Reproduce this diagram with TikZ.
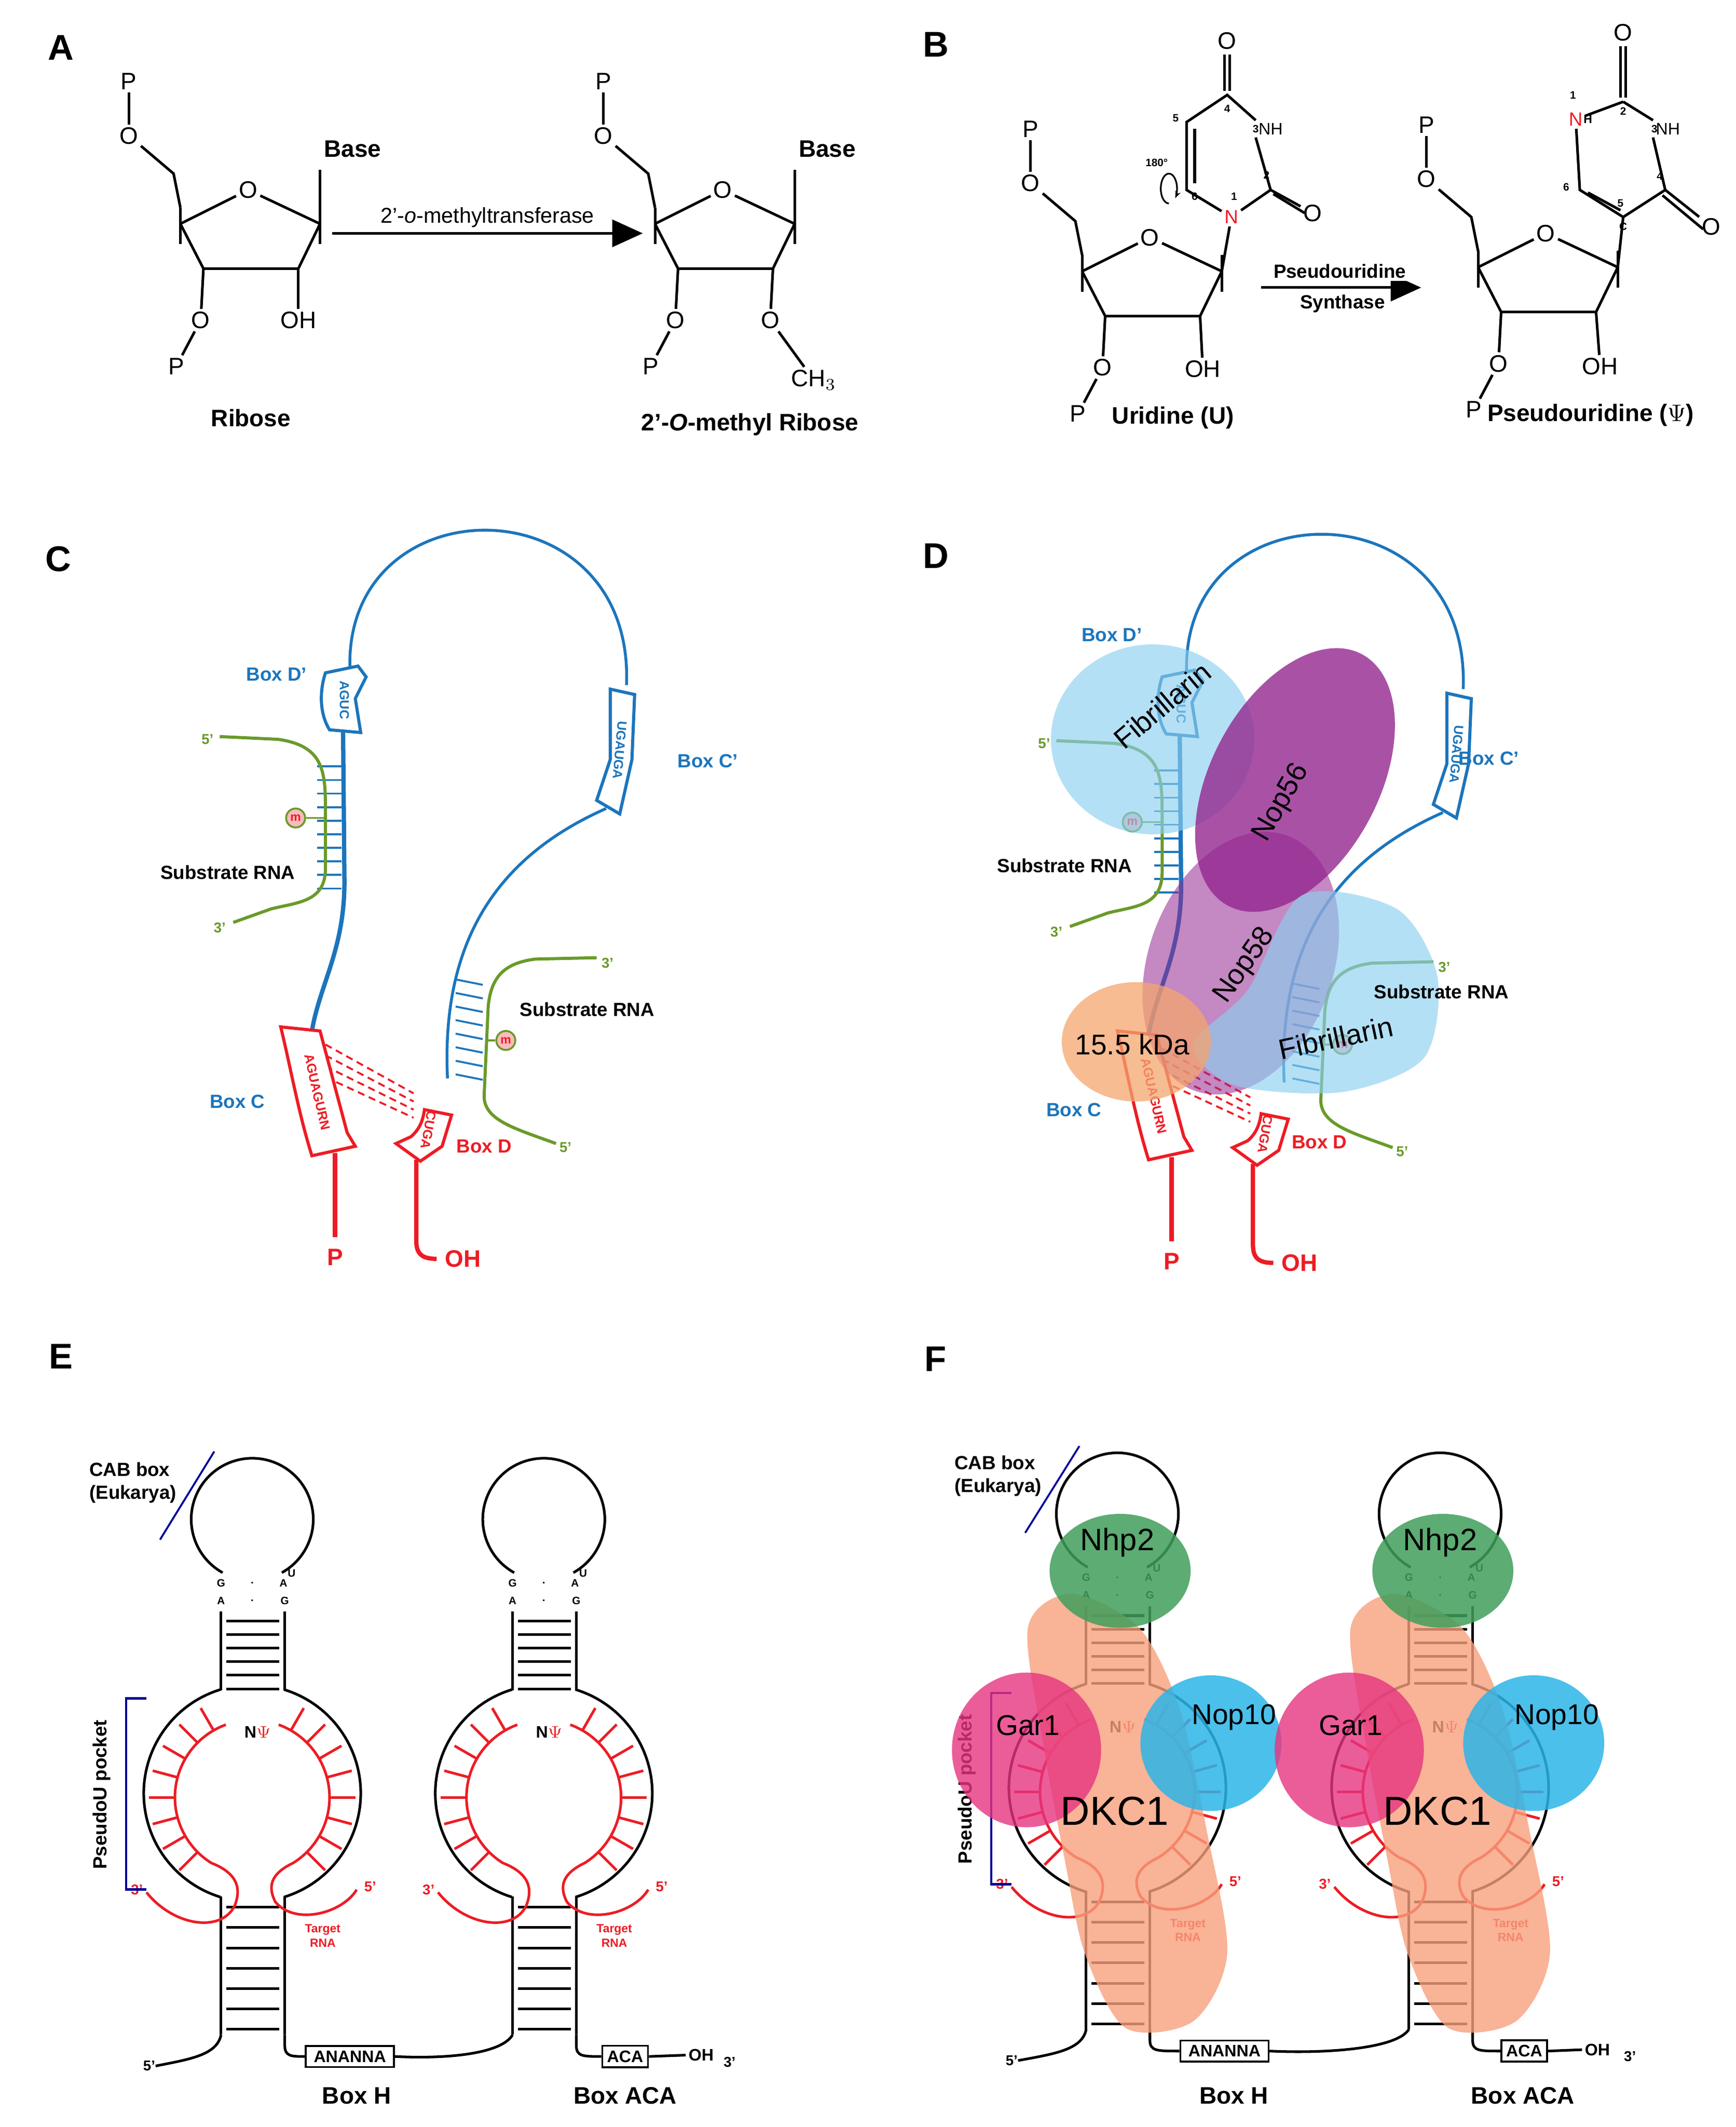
\documentclass[tikz,border=0pt]{standalone}
\usepackage{fontspec}
\setmainfont{Liberation Sans}
\usetikzlibrary{positioning}
\usetikzlibrary{calc}
\usetikzlibrary{arrows.meta}
\definecolor{guideblue}{HTML}{1B75BC}
\definecolor{lightblue}{HTML}{8CCFF0}
\definecolor{rnared}{HTML}{ED1C24}
\definecolor{rnagreen}{HTML}{6A9A2A}
\definecolor{nopurple}{HTML}{93278F}
\definecolor{kdaorange}{HTML}{F4A66E}
\definecolor{dkcsalmon}{HTML}{F7A07C}
\definecolor{garpink}{HTML}{E6347F}
\definecolor{nopcyan}{HTML}{2CB5E8}
\definecolor{nhpgreen}{HTML}{3F9E5A}
\tikzset{
  bond/.style={line width=1.1pt, black},
  atom/.style={inner sep=1pt, font=\fontsize{10}{12}\selectfont},
  lbl/.style={font=\bfseries\fontsize{10}{12}\selectfont},
  panel/.style={font=\bfseries\fontsize{15}{18}\selectfont},
  num/.style={inner sep=0pt, font=\bfseries\fontsize{4.5}{5}\selectfont},
  boxlet/.style={inner sep=0pt, font=\bfseries\fontsize{5.5}{6}\selectfont},
  protein/.style={font=\fontsize{12}{14}\selectfont},
  guide/.style={guideblue, line width=1.8pt},
  guidethin/.style={guideblue, line width=1.2pt},
  substrate/.style={rnagreen, line width=1.3pt},
  stem/.style={line width=1.1pt, black},
  target/.style={rnared, line width=1.1pt},
}
% ribose ring, local origin at the ring oxygen
\newcommand{\ribosering}{%
  \node[atom] (O) at (0,0) {O};
  \coordinate (C4) at (-50,25); \coordinate (C1) at (53,25);
  \coordinate (C3) at (-33,58); \coordinate (C2) at (37,58);
  \draw[bond] (C4) -- (O); \draw[bond] (O) -- (C1);
  \draw[bond] (C1) -- (C2) -- (C3) -- (C4);
  \draw[bond] (-50,13) -- (-50,40); \draw[bond] (53,13) -- (53,40);
  \node[atom] (O5) at (-88,-40) {O};
  \node[atom] (P5) at (-88,-80) {P};
  \coordinate (C5) at (-55,-12);
  \draw[bond] (P5) -- (O5); \draw[bond] (O5) -- (C5) -- (-50,13);
  \node[atom] (O3) at (-35,96) {O};
  \node[atom] (P3) at (-53,130) {P};
  \draw[bond] (C3) -- (O3); \draw[bond] (O3) -- (P3);
}
% C/D box guide RNA with two substrates
\newcommand{\cdguide}{%
  \draw[guidethin] (258,492) .. controls (255,355) and (468,355) .. (462,505);
  \draw[guide, line width=1.3pt, fill=white] (240,496) -- (264,491) -- (270,499) -- (262,515) -- (266,540) -- (243,538) .. controls (235,525) and (236,508) .. cycle;
  \node[boxlet, guideblue, rotate=-90] (dp) at (254,516) {AGUC};
  \draw[guide, line width=1.3pt, fill=white] (450,508) -- (468,512) -- (466,560) -- (457,600) -- (440,590) -- (450,560) -- cycle;
  \node[boxlet, guideblue, rotate=-95] (cp) at (457,553) {UGAUGA};
  \draw[guide] (253,540) -- (254,650) .. controls (254,700) and (236,725) .. (230,760);
  \foreach \y in {565,575,...,655} \draw[guidethin, line width=0.8pt] (234,\y) -- (252,\y);
  \draw[guidethin] (447,596) .. controls (370,630) and (325,690) .. (330,795);
  \foreach \y in {722,732,...,792} \draw[guidethin, line width=0.8pt] (336,\y) -- (356,\y+4);
  \draw[substrate] (162,543) -- (205,545) .. controls (240,550) and (240,570) .. (240,600) -- (240,640) .. controls (240,665) and (220,665) .. (200,670) -- (172,680);
  \node[num, rnagreen, font=\bfseries\fontsize{6}{7}\selectfont] (s5a) at (153,545) {5'};
  \node[num, rnagreen, font=\bfseries\fontsize{6}{7}\selectfont] (s3a) at (162,684) {3'};
  \node[draw=rnagreen, thick, circle, inner sep=1pt, fill=rnared!30, font=\bfseries\fontsize{5}{6}\selectfont, text=rnared] (ma) at (218,603) {m};
  \draw[substrate, line width=0.8pt] (ma) -- (240,603);
  \draw[substrate] (440,706) -- (395,707) .. controls (370,710) and (362,722) .. (360,742) -- (357,808) .. controls (357,826) and (380,832) .. (410,843);
  \node[num, rnagreen, font=\bfseries\fontsize{6}{7}\selectfont] (s3b) at (448,710) {3'};
  \node[num, rnagreen, font=\bfseries\fontsize{6}{7}\selectfont] (s5b) at (417,846) {5'};
  \node[draw=rnagreen, thick, circle, inner sep=1pt, fill=rnared!30, font=\bfseries\fontsize{5}{6}\selectfont, text=rnared] (mb) at (373,767) {m};
  \draw[substrate, line width=0.8pt] (mb) -- (358,767);
  \foreach \i in {0,1,2,3}
    \draw[rnared, line width=0.8pt, dash pattern=on 3pt off 2pt] (240,770+8*\i) -- (305,806+6*\i);
  \draw[rnared, line width=1.3pt, fill=white] (207,757) -- (236,760) -- (256,835) -- (262,845) -- (230,852) .. controls (220,820) and (215,790) .. cycle;
  \node[boxlet, rnared, rotate=-77] (cb) at (234,805) {AGUAGURN};
  \draw[rnared, line width=1.3pt, fill=white] (313,818) -- (333,822) -- (326,845) -- (310,856) -- (292,843) -- (303,838) .. controls (310,832) and (312,825) .. cycle;
  \node[boxlet, rnared, rotate=-100] (db) at (316,833) {CUGA};
  \draw[rnared, line width=1.8pt] (247,850) -- (247,912);
  \node[lbl, rnared] (pend) at (247,927) {P};
  \draw[rnared, line width=1.8pt] (307,855) -- (307,915) .. controls (307,925) and (312,928) .. (322,928);
  \node[lbl, rnared, anchor=west] (ohend) at (322,928) {OH};
}
% H/ACA hairpin, local origin on the left strand
\newcommand{\hairpin}{%
  \draw[stem] (23,1120) ++(119:45) arc[start angle=119, end angle=421, radius=45];
  \node[num] (g1) at (0,1167) {G}; \node[num] (a1) at (0,1180) {A};
  \node[num] (d1) at (23,1167) {.}; \node[num] (d2) at (23,1180) {.};
  \node[num] (a2) at (46,1167) {A}; \node[num] (u2) at (52,1160) {U};
  \node[num] (g2) at (47,1180) {G};
  \draw[stem] (0,1188) -- (0,1246); \draw[stem] (47,1188) -- (47,1246);
  \foreach \y in {1195,1205,...,1245} \draw[stem] (4,\y) -- (43,\y);
  \draw[stem] (23,1322) ++(253:80) arc[start angle=253, end angle=107, radius=80];
  \draw[stem] (23,1322) ++(-73:80) arc[start angle=-73, end angle=73, radius=80];
  \draw[stem] (0,1398) -- (0,1500); \draw[stem] (47,1398) -- (47,1500);
  \foreach \y in {1406,1421,...,1496} \draw[stem] (4,\y) -- (43,\y);
  \draw[target] (23,1325) ++(250:57) arc[start angle=250, end angle=122, radius=57]
    .. controls (15,1382) and (14,1395) .. (10,1405) .. controls (0,1425) and (-35,1420) .. (-55,1395);
  \draw[target] (23,1325) ++(-70:57) arc[start angle=-70, end angle=58, radius=57]
    .. controls (35,1382) and (35,1392) .. (40,1402) .. controls (55,1420) and (90,1410) .. (100,1393);
  \foreach \a in {240,225,...,135} \draw[target] (23,1325) ++(\a:57) -- ++(\a:19);
  \foreach \a in {-60,-45,...,45} \draw[target] (23,1325) ++(\a:57) -- ++(\a:19);
  \node[font=\bfseries\fontsize{7}{8}\selectfont, inner sep=0pt] (npsi) at (27,1277) {N\textcolor{rnared}{$\Psi$}};
  \node[num, rnared, font=\bfseries\fontsize{6}{7}\selectfont] (t3) at (-62,1393) {3'};
  \node[num, rnared, font=\bfseries\fontsize{6}{7}\selectfont] (t5) at (110,1391) {5'};
  \node[num, rnared, align=center, font=\bfseries\fontsize{5}{6}\selectfont] (trna) at (75,1427) {Target\\RNA};
}

\begin{document}
\begin{tikzpicture}[x=0.02cm, y=-0.02cm]
  \useasboundingbox (0,0) rectangle (1280,1568);
  % panel letters
  \node[panel] (pa) at (45,35) {A};
  \node[panel] (pb) at (690,33) {B};
  \node[panel] (pc) at (43,412) {C};
  \node[panel] (pd) at (690,410) {D};
  \node[panel] (pe) at (45,1000) {E};
  \node[panel] (pf) at (690,1002) {F};

  % A: ribose and 2'-O-methyl ribose
  \begin{scope}[shift={(183,140)}, name prefix=ra-]
    \ribosering
    \draw[bond] (C1) -- (53,-15);
    \node[lbl] (base) at (77,-30) {Base};
    \node[atom] (OH) at (37,96) {OH};
    \draw[bond] (C2) -- (OH);
  \end{scope}
  \begin{scope}[shift={(533,140)}, name prefix=rb-]
    \ribosering
    \draw[bond] (C1) -- (53,-15);
    \node[lbl] (base) at (77,-30) {Base};
    \node[atom] (O2) at (35,96) {O};
    \node[atom] (CH3) at (67,140) {CH$_3$};
    \draw[bond] (C2) -- (O2); \draw[bond] (O2) -- (CH3);
  \end{scope}
  \coordinate (mt-start) at (245,172);
  \coordinate (mt-end) at (474,172);
  \draw[bond, -{Triangle[length=0.45cm, width=0.4cm]}] (mt-start) -- node[above, font=\fontsize{9}{11}\selectfont, inner sep=2pt] {2'-\textit{o}-methyltransferase} (mt-end);
  \node[lbl] (rib) at (185,308) {Ribose};
  \node[lbl] (mrib) at (553,313) {2'-\textit{O}-methyl Ribose};

  % B: uridine to pseudouridine
  \begin{scope}[shift={(848,175)}, name prefix=ua-]
    \ribosering
    \node[atom] (OH) at (39,97) {OH};
    \draw[bond] (C2) -- (OH);
    \node[atom, text=rnared, font=\fontsize{8}{9}\selectfont] (N1) at (60,-15) {N};
    \coordinate (U2) at (89,-35); \node[atom, font=\fontsize{7}{8}\selectfont] (N3) at (89,-80) {NH};
    \coordinate (U4) at (57,-105); \coordinate (U5) at (27,-85); \coordinate (U6) at (27,-35);
    \node[atom] (O4) at (57,-145) {O}; \node[atom] (O2) at (120,-18) {O};
    \draw[bond] (C1) -- (N1); \draw[bond] (N1) -- (U2); \draw[bond] (U2) -- (N3.south west);
    \draw[bond] (N3.north west) -- (U4) -- (U5) -- (U6) -- (N1);
    \draw[bond] (33,-80) -- (33,-40);
    \draw[bond] (55,-108) -- (55,-135); \draw[bond] (59,-108) -- (59,-135);
    \draw[bond] (U2) -- (O2); \draw[bond] ($(U2)+(2,3)$) -- ($(O2)+(-6,0)$);
    \node[num] (n1) at (62,-30) {1}; \node[num] (n2) at (86,-46) {2};
    \node[num] (n3) at (78,-80) {3}; \node[num] (n4) at (57,-95) {4};
    \node[num] (n5) at (19,-88) {5}; \node[num] (n6) at (33,-30) {6};
    \node[num] (deg) at (5,-55) {180\textdegree};
    \draw[line width=0.7pt, -{Stealth[length=3pt]}] (14,-25) arc[start angle=90, end angle=400, x radius=6, y radius=11];
  \end{scope}
  \coordinate (ps-start) at (930,212);
  \coordinate (ps-end) at (1048,212);
  \draw[bond, -{Triangle[length=0.45cm, width=0.4cm]}] (ps-start) -- (ps-end);
  \node[font=\bfseries\fontsize{8}{9.5}\selectfont, fill=white, inner sep=1pt] (psyn1) at (988,200) {Pseudouridine};
  \node[font=\bfseries\fontsize{8}{9.5}\selectfont, fill=white, inner sep=1pt] (psyn2) at (990,224) {Synthase};
  \begin{scope}[shift={(1140,172)}, name prefix=ub-]
    \ribosering
    \node[atom] (OH) at (40,98) {OH};
    \draw[bond] (C2) -- (OH);
    \coordinate (P5c) at (57,-12); \coordinate (P4) at (88,-32);
    \node[atom, font=\fontsize{7}{8}\selectfont] (N3) at (90,-77) {NH};
    \coordinate (P2) at (57,-97);
    \node[atom, text=rnared, font=\fontsize{8}{9}\selectfont] (N1) at (22,-84) {N};
    \coordinate (P6) at (25,-32);
    \node[atom] (O2) at (57,-148) {O}; \node[atom] (O4) at (122,-5) {O};
    \draw[bond] (C1) -- (P5c) -- (P4); \draw[bond] (P4) -- (N3.south west);
    \draw[bond] (N3.north west) -- (P2); \draw[bond] (P2) -- (N1);
    \draw[bond] (N1) -- (P6) -- (P5c);
    \draw[bond] (31,-30) -- (55,-17);
    \draw[bond] (55,-100) -- (55,-138); \draw[bond] (59,-100) -- (59,-138);
    \draw[bond] (P4) -- (O4); \draw[bond] ($(P4)+(-2,4)$) -- ($(O4)+(-6,2)$);
    \node[num] (n1) at (20,-102) {1}; \node[num] (n2) at (57,-90) {2};
    \node[num] (n3) at (80,-77) {3}; \node[num] (n4) at (84,-42) {4};
    \node[num] (n5) at (55,-22) {5}; \node[num] (n6) at (15,-34) {6};
    \node[num] (cc) at (57,-5) {C};
    \node[num, font=\bfseries\fontsize{5}{6}\selectfont] (nh) at (31,-84) {H};
  \end{scope}
  \node[lbl] (urid) at (865,308) {Uridine (U)};
  \node[lbl] (psiu) at (1173,306) {Pseudouridine ($\Psi$)};

  % C: box C/D snoRNA
  \cdguide
  \node[lbl, guideblue, font=\bfseries\fontsize{8}{10}\selectfont] (bdp) at (204,497) {Box D'};
  \node[lbl, guideblue, font=\bfseries\fontsize{8}{10}\selectfont] (bcp) at (522,561) {Box C'};
  \node[lbl, font=\bfseries\fontsize{8}{10}\selectfont] (sra) at (168,643) {Substrate RNA};
  \node[lbl, font=\bfseries\fontsize{8}{10}\selectfont] (srb) at (433,744) {Substrate RNA};
  \node[lbl, guideblue, font=\bfseries\fontsize{8}{10}\selectfont] (bc) at (175,812) {Box C};
  \node[lbl, rnared, font=\bfseries\fontsize{8}{10}\selectfont] (bd) at (357,845) {Box D};

  % D: box C/D snoRNP
  \begin{scope}[shift={(617,3)}]
    \cdguide
  \end{scope}
  \fill[lightblue, opacity=0.65] (850,545) ellipse[x radius=75, y radius=70];
  \begin{scope}[rotate around={-28:(955,575)}]
    \fill[nopurple, opacity=0.8] (955,575) ellipse[x radius=62, y radius=105];
  \end{scope}
  \begin{scope}[rotate around={-20:(915,710)}]
    \fill[nopurple, opacity=0.55] (915,710) ellipse[x radius=68, y radius=100];
  \end{scope}
  \fill[lightblue, opacity=0.65] plot[smooth cycle] coordinates {(960,660) (1030,670) (1060,720) (1050,780) (990,805) (910,800) (880,770) (920,730)};
  \fill[kdaorange, opacity=0.75] (838,768) ellipse[x radius=55, y radius=44];
  \node[protein, rotate=40] (fib1) at (857,520) {Fibrillarin};
  \node[protein, rotate=60] (nop56) at (945,592) {Nop56};
  \node[protein, rotate=55] (nop58) at (918,712) {Nop58};
  \node[protein, rotate=12] (fib2) at (985,765) {Fibrillarin};
  \node[protein] (kda) at (835,770) {15.5 kDa};
  \node[lbl, guideblue, font=\bfseries\fontsize{8}{10}\selectfont] (dbdp) at (820,468) {Box D'};
  \node[lbl, guideblue, font=\bfseries\fontsize{8}{10}\selectfont] (dbcp) at (1098,559) {Box C'};
  \node[lbl, font=\bfseries\fontsize{8}{10}\selectfont] (dsra) at (785,638) {Substrate RNA};
  \node[lbl, font=\bfseries\fontsize{8}{10}\selectfont] (dsrb) at (1063,731) {Substrate RNA};
  \node[lbl, guideblue, font=\bfseries\fontsize{8}{10}\selectfont] (dbc) at (792,818) {Box C};
  \node[lbl, rnared, font=\bfseries\fontsize{8}{10}\selectfont] (dbd) at (973,842) {Box D};

  % E: H/ACA snoRNA
  \begin{scope}[shift={(163,0)}] \hairpin \end{scope}
  \begin{scope}[shift={(378,0)}] \hairpin \end{scope}
  \node[draw, line width=0.8pt, font=\bfseries\fontsize{7}{8}\selectfont, inner sep=2pt, minimum width=1.3cm] (eh) at (258,1516) {ANANNA};
  \node[draw, line width=0.8pt, font=\bfseries\fontsize{7}{8}\selectfont, inner sep=2pt] (eaca) at (461,1516) {ACA};
  \node[font=\bfseries\fontsize{7}{8}\selectfont, inner sep=1pt] (eoh) at (517,1515) {OH};
  \node[num, font=\bfseries\fontsize{6}{7}\selectfont] (e3) at (538,1520) {3'};
  \node[num, font=\bfseries\fontsize{6}{7}\selectfont] (e5) at (110,1523) {5'};
  \draw[stem] (163,1500) .. controls (160,1515) and (140,1518) .. (e5.east);
  \draw[stem] (210,1500) -- (210,1508) .. controls (210,1516) and (215,1516) .. (eh.west);
  \draw[stem] (eh.east) .. controls (330,1518) and (370,1514) .. (378,1500);
  \draw[stem] (425,1500) -- (425,1508) .. controls (425,1516) and (430,1516) .. (eaca.west);
  \draw[stem] (eaca.east) -- (eoh.west);
  \node[lbl] (ebh) at (263,1545) {Box H};
  \node[lbl] (ebaca) at (461,1545) {Box ACA};
  \node[align=left, font=\bfseries\fontsize{8}{9.5}\selectfont] (ecab) at (98,1093) {CAB box\\(Eukarya)};
  \draw[blue!60!black, line width=0.8pt] (118,1135) -- (158,1070);
  \draw[blue!60!black, line width=1pt] (108,1252) -- (93,1252) -- (93,1393) -- (108,1393);
  \node[rotate=90, font=\bfseries\fontsize{8}{10}\selectfont] (epk) at (75,1323) {PseudoU pocket};

  % F: H/ACA snoRNP
  \begin{scope}[shift={(801,-4)}] \hairpin \end{scope}
  \begin{scope}[shift={(1039,-4)}] \hairpin \end{scope}
  \node[draw, line width=0.8pt, font=\bfseries\fontsize{7}{8}\selectfont, inner sep=2pt, minimum width=1.3cm] (fh) at (903,1512) {ANANNA};
  \node[draw, line width=0.8pt, font=\bfseries\fontsize{7}{8}\selectfont, inner sep=2pt] (faca) at (1124,1512) {ACA};
  \node[font=\bfseries\fontsize{7}{8}\selectfont, inner sep=1pt] (foh) at (1178,1511) {OH};
  \node[num, font=\bfseries\fontsize{6}{7}\selectfont] (f3) at (1202,1516) {3'};
  \node[num, font=\bfseries\fontsize{6}{7}\selectfont] (f5) at (746,1519) {5'};
  \draw[stem] (801,1496) .. controls (798,1511) and (778,1514) .. (f5.east);
  \draw[stem] (848,1496) -- (848,1504) .. controls (848,1512) and (853,1512) .. (fh.west);
  \draw[stem] (fh.east) .. controls (980,1514) and (1030,1510) .. (1039,1496);
  \draw[stem] (1086,1496) -- (1086,1504) .. controls (1086,1512) and (1091,1512) .. (faca.west);
  \draw[stem] (faca.east) -- (foh.west);
  \node[lbl] (fbh) at (910,1545) {Box H};
  \node[lbl] (fbaca) at (1123,1545) {Box ACA};
  \node[align=left, font=\bfseries\fontsize{8}{9.5}\selectfont] (fcab) at (736,1088) {CAB box\\(Eukarya)};
  \draw[blue!60!black, line width=0.8pt] (756,1130) -- (796,1066);
  \draw[blue!60!black, line width=1pt] (746,1248) -- (731,1248) -- (731,1389) -- (746,1389);
  \node[rotate=90, font=\bfseries\fontsize{8}{10}\selectfont] (fpk) at (713,1319) {PseudoU pocket};
  \foreach \dx/\nm in {0/a, 238/b} {
    \begin{scope}[shift={(\dx,0)}]
      \fill[dkcsalmon, opacity=0.8] plot[smooth cycle] coordinates {(758,1200) (790,1175) (840,1200) (870,1260) (890,1350) (905,1440) (880,1490) (830,1495) (800,1440) (785,1370) (770,1290)};
      \fill[garpink, opacity=0.8] (757,1290) ellipse[x radius=55, y radius=57];
      \fill[nopcyan, opacity=0.85] (893,1285) ellipse[x radius=52, y radius=50];
      \fill[nhpgreen, opacity=0.85] (826,1158) ellipse[x radius=52, y radius=42];
      \node[protein, font=\fontsize{13}{15}\selectfont] (nhp-\nm) at (824,1137) {Nhp2};
      \node[protein] (gar-\nm) at (758,1272) {Gar1};
      \node[protein] (nop-\nm) at (910,1266) {Nop10};
      \node[protein, font=\fontsize{17}{19}\selectfont] (dkc-\nm) at (822,1335) {DKC1};
    \end{scope}
  }
\end{tikzpicture}
\end{document}
